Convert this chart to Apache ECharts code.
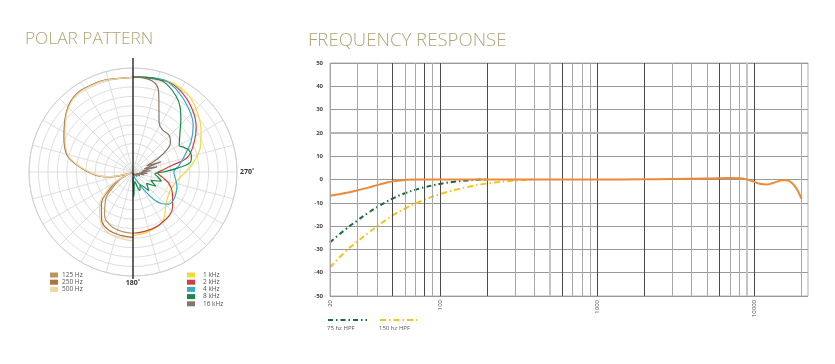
<!DOCTYPE html>
<html><head><meta charset="utf-8">
<script src="https://cdn.jsdelivr.net/npm/echarts@6/dist/echarts.min.js"></script>
<style>html,body{margin:0;padding:0;background:#fff}#c{width:835px;height:364px}</style>
</head><body><div id="c"></div>
<script>
// ---------- POLAR PATTERN (dB, angle in degrees; 0 = top, 90 = left, 270 = right) ----------
const lowAngles = [0,15,22,37,51,63,75,85,95,100,105,110,113,116,120,126,135,147,158,170,180];
const hz125 = [0,0.3,0.5,0.4,-2,-4.5,-6.8,-11,-15,-17.6,-20.5,-23.5,-24.8,-23,-20.8,-18.8,-14.8,-11.2,-9.6,-9,-8.8];
const hz250 = [0,0.3,0.5,0.4,-2,-4.6,-6.9,-11.1,-15.3,-17.9,-20.8,-23.7,-24.7,-22.5,-19.8,-17.4,-13.2,-9.8,-8.3,-7.9,-7.7];
const hz500 = [0,0.2,0.4,0.2,-2.2,-4.8,-7.1,-11.3,-15.5,-18,-21,-24,-24.5,-22,-19,-16.5,-12.5,-9.2,-7.6,-7.1,-6.8];

// high frequencies: angle measured clockwise from top (drawn on the right half)
const k1Angles = [0,20,35,47,58,69,81,90,98,108,118,128,135,149,164,180];
const k1 = [0.15,0.7,0.15,-1.8,-3.8,-5.9,-8.8,-11.1,-12.7,-13.7,-14,-13.5,-12.7,-9.8,-8.8,-8.2];
const k2Angles = [0,20,30,43.5,55,64,75,80,86,92,100,108,118,131,153,170,180];
const k2 = [0.15,0.55,-0.1,-2.2,-4.6,-7,-10.1,-14.3,-17.1,-18.5,-17.1,-15,-13.2,-11.1,-9.4,-9,-8.8];
const k4Angles = [0,18,28,39.5,52,62.8,72,82,90,99.5,108,116.6,125,132,138,143,149,160,170,180];
const k4 = [0.15,0.7,-0.4,-2.4,-4.8,-7.8,-10.6,-12.7,-14.2,-13.6,-12.8,-12.3,-12,-12.3,-13.8,-16,-19.9,-22.9,-24.2,-24.7];
const k8Angles = [0,15,29.5,42,52,60,64,69,75,80,85,90,95,100,108,115,122,130,140,150,160,170,178,180];
const k8 = [0.15,0.4,-1.9,-6.1,-9.3,-10.9,-10.1,-9.1,-9,-9.5,-13.2,-17.1,-19.2,-18.5,-17.1,-19.8,-17.9,-20.3,-18.5,-21.1,-19.8,-22.4,-18.5,-23.7];
const k16Angles = [0,12,18,22,28,35,45,52,57,62,66,70,74,78,82,86,90,95,100,105,110,120,130,140,150,160,170,180];
const k16 = [0.15,-0.4,-3,-6.7,-10.3,-11.4,-11.4,-12.4,-14.5,-17.7,-21.1,-17.1,-21.9,-18.5,-22.4,-20.3,-22.9,-21.1,-23.4,-21.9,-24,-22.9,-24.2,-23.4,-24.5,-24,-24.5,-24.7];

// ---------- FREQUENCY RESPONSE ----------
const freqMain = [20,25,30,35,40,45,50,60,70,80,100,150,200,300,500,700,1000,2000,3000,5000,7000,8000,9000,10000,11000,12000,13000,14000,15000,16000,17000,18000,19000,20000];
const respMain = [-7,-5.8,-4.6,-3.5,-2.4,-1.5,-0.8,-0.2,0,0,0,0,0,0,0,0,0,0.1,0.2,0.4,0.6,0.5,0,-1,-1.9,-2.1,-1.6,-0.9,-0.3,-0.3,-1,-2.6,-5,-8.3];
const freq75 = [20,25,30,35,40,50,60,70,80,100,120,150,170,200];
const resp75 = [-27,-21.5,-17.5,-14.3,-11.8,-8.2,-5.9,-4.4,-3.3,-1.9,-1.1,-0.4,-0.1,0];
const freq150 = [20,25,30,35,40,50,60,70,80,100,150,200,300,400];
const resp150 = [-37.8,-31,-26.5,-23,-20,-15.5,-12.5,-10.3,-8.7,-6.3,-3.2,-1.7,-0.5,0];
const xTickLabels = [20,100,1000,10000];
const gridFreqs = [20,30,40,50,60,70,80,90,100,200,300,400,500,600,700,800,900,1000,2000,3000,4000,5000,6000,7000,8000,9000,10000,20000];
const darkFreqs = [50,80,100,200,600,1000,2000,6000,10000];
const paleFreqs = [500,9000];
const hpfNames = ['75 hz HPF','150 hz HPF'];

const gold = '#b2a274';
const leftHalf = (ang, vals) => vals.map((v,i)=>[v, ang[i]]);
const rightHalf = (ang, vals) => vals.map((v,i)=>[v, 360-ang[i]]);
const pairs = (xs, ys) => xs.map((x,i)=>[x, ys[i]]);

function polarSeries(name, color, data){
  return {name, type:'line', coordinateSystem:'polar', data, smooth:0.4, symbol:'none',
    lineStyle:{color, width:1.2}, itemStyle:{color}, z:3};
}

const vlines = gridFreqs.map(f=>({
  xAxis:f,
  lineStyle:{
    color: darkFreqs.includes(f) ? '#4a4a4a' : (paleFreqs.includes(f) ? '#c4c4c4' : '#a8a8a8'),
    width: paleFreqs.includes(f) ? 2 : 1, type:'solid'}
}));

const smallLegend = {orient:'vertical', icon:'rect', padding:0,
  itemWidth:8, itemHeight:5, itemGap:0.2};

const option = {
  animation:false,
  textStyle:{fontFamily:'"Open Sans", sans-serif'},
  title:[
    {text:'POLAR PATTERN', left:25, top:31, padding:0,
     textStyle:{fontFamily:'"Open Sans"', fontWeight:300, fontSize:17.3, color:gold}},
    {text:'FREQUENCY RESPONSE', left:308, top:31, padding:0,
     textStyle:{fontFamily:'"Open Sans"', fontWeight:300, fontSize:18.6, color:gold}}
  ],
  polar:{center:[133,172], radius:104},
  angleAxis:{type:'value', min:0, max:360, interval:15, startAngle:90, clockwise:false,
    axisLine:{lineStyle:{color:'#cfcfcf', width:1}},
    axisTick:{show:false},
    splitLine:{show:true, lineStyle:{color:'#d6d6d6', width:0.8}},
    axisLabel:{margin:3, fontSize:7, fontWeight:'bold', color:'#333',
      formatter:v=> v===180 ? '180˚' : (v===270 ? '270˚' : '')}},
  radiusAxis:{type:'value', min:-25, max:2.5, interval:2.5,
    axisLine:{show:false}, axisTick:{show:false}, axisLabel:{show:false},
    splitLine:{show:true, lineStyle:{color:'#d6d6d6', width:0.8}}},
  grid:{left:330, right:27, top:63, bottom:68, show:true, borderColor:'#b0b0b0', borderWidth:1},
  xAxis:{type:'log', logBase:10, min:20, max:22000,
    axisLine:{show:false}, axisTick:{show:false}, splitLine:{show:false},
    axisLabel:{rotate:90, fontSize:6, color:'#444', margin:4,
      formatter:v=>{const r=Math.round(v); return xTickLabels.includes(r) ? String(r) : '';}}},
  yAxis:{type:'value', min:-50, max:50, interval:10,
    axisLine:{show:false}, axisTick:{show:false},
    splitLine:{lineStyle:{color:'#9a9a9a', width:1}},
    axisLabel:{fontSize:6, fontWeight:'bold', color:'#444', margin:7}},
  legend:[
    Object.assign({data:['125 Hz','250 Hz','500 Hz'], left:50, top:271.5,
      textStyle:{fontSize:6.5, lineHeight:6.5, color:'#555', padding:[0,0,0,-1]}}, smallLegend),
    Object.assign({data:['1 kHz','2 kHz','4 kHz','8 kHz','16 kHz'], left:187, top:271.5,
      textStyle:{fontSize:6.5, lineHeight:6.5, color:'#555', padding:[0,0,0,3]}}, smallLegend),
    {data:[hpfNames[0]], left:327, top:317, padding:0, itemWidth:39, itemHeight:6,
     formatter:()=>'', itemStyle:{opacity:0}},
    {data:[hpfNames[1]], left:379, top:317, padding:0, itemWidth:37, itemHeight:6,
     formatter:()=>'', itemStyle:{opacity:0}}
  ],
  graphic:[
    {type:'line', shape:{x1:133, y1:58, x2:133, y2:279}, style:{stroke:'#1a1a1a', lineWidth:1.3}, z:10},
    {type:'text', left:327, top:325, style:{text:hpfNames[0], fontSize:6, fill:'#555', fontFamily:'"Open Sans"'}},
    {type:'text', left:379, top:325, style:{text:hpfNames[1], fontSize:6, fill:'#555', fontFamily:'"Open Sans"'}}
  ],
  series:[
    polarSeries('125 Hz','#b4965e', leftHalf(lowAngles, hz125)),
    polarSeries('250 Hz','#b3703d', leftHalf(lowAngles, hz250)),
    polarSeries('500 Hz','#ead7a2', leftHalf(lowAngles, hz500)),
    polarSeries('1 kHz','#f1da3e', rightHalf(k1Angles, k1)),
    polarSeries('2 kHz','#cf3f3e', rightHalf(k2Angles, k2)),
    polarSeries('4 kHz','#3aaac8', rightHalf(k4Angles, k4)),
    polarSeries('8 kHz','#158a4a', rightHalf(k8Angles, k8)),
    polarSeries('16 kHz','#8a7466', rightHalf(k16Angles, k16)),
    {name:'grid', type:'line', data:[], silent:true, z:1,
     markLine:{silent:true, symbol:'none', label:{show:false}, data:vlines.concat([
       {yAxis:20, lineStyle:{color:'#b5b5b5', width:2, type:'solid'}}
     ])}},
    {name:hpfNames[0], type:'line', data:pairs(freq75, resp75), smooth:true, symbol:'none', z:4,
     lineStyle:{color:'#1d6a3c', width:2, type:[5,3,1.5,3]}, itemStyle:{color:'#1d6a3c'}},
    {name:hpfNames[1], type:'line', data:pairs(freq150, resp150), smooth:true, symbol:'none', z:4,
     lineStyle:{color:'#f1c521', width:2, type:[6,3,1.5,3]}, itemStyle:{color:'#f1c521'}},
    {name:'Response', type:'line', data:pairs(freqMain, respMain), smooth:true, symbol:'none', z:5,
     lineStyle:{color:'#ec8a3a', width:2}, itemStyle:{color:'#ec8a3a'}}
  ]
};
echarts.init(document.getElementById('c')).setOption(option);
</script></body></html>
